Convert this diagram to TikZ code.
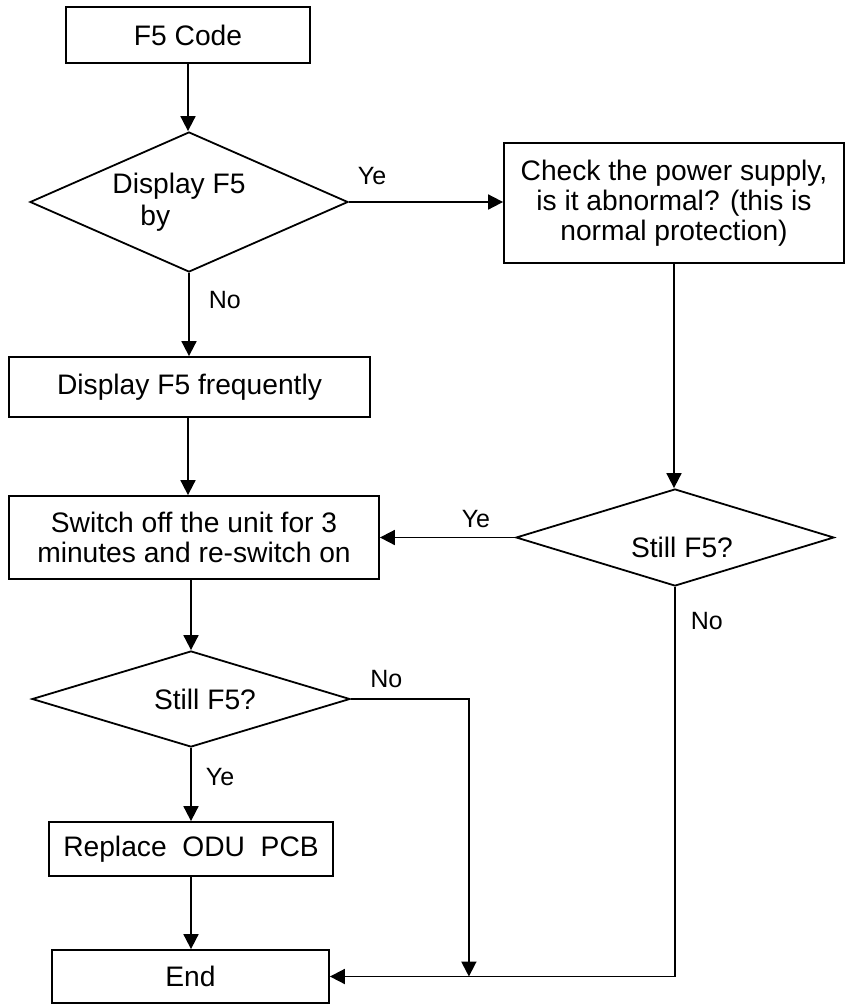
\documentclass[tikz,border=0pt]{standalone}
\usepackage{fontspec}
\setmainfont{Liberation Sans}
\usetikzlibrary{arrows.meta,shapes.geometric,calc}

\tikzset{
  box/.style={draw,line width=1.8pt,inner sep=0pt,align=center,font=\fontsize{28.2}{30}\selectfont},
  decision/.style={draw,shape=diamond,line width=1.8pt,inner sep=0pt,align=center,font=\fontsize{28.2}{32}\selectfont},
  flow/.style={line width=1.8pt,-{Triangle[length=15pt,width=15pt]}},
  tag/.style={inner sep=0pt,font=\fontsize{25}{25}\selectfont},
}

\begin{document}
\begin{tikzpicture}[x=1pt,y=-1pt]
  \useasboundingbox (0,0) rectangle (845,1004);
  % left column
  \node[box,minimum width=244pt,minimum height=56pt] (code) at (188,35) {F5 Code};
  \node[decision,align=left,aspect=2.27,minimum width=318pt,minimum height=140pt] (disp) at (189,202) {Display F5\hspace*{20pt}\\\hspace*{28pt}by};
  \node[box,minimum width=361pt,minimum height=60pt] (freq) at (189.5,387) {Display F5 frequently};
  \node[box,minimum width=370pt,minimum height=83pt] (switch) at (194,537.5) {Switch off the unit for 3\\minutes and re-switch on};
  \node[decision,aspect=3.3,minimum width=318pt,minimum height=96pt] (stillL) at (191,699) {\hspace*{28pt}Still F5?};
  \node[box,minimum width=284pt,minimum height=54pt] (replace) at (191,849) {Replace\ \ ODU\ \ PCB};
  \node[box,minimum width=277pt,minimum height=53pt] (end) at (190.5,976.5) {End};
  % right column
  \node[box,minimum width=340pt,minimum height=120pt] (check) at (674,203) {Check the power supply,\\is it abnormal? (this is\\normal protection)};
  \node[decision,aspect=3.3,text height=40pt,text depth=0pt,minimum width=318pt,minimum height=97pt] (stillR) at (675,537.5) {\hspace*{14pt}Still F5?};
  \coordinate (merge) at ($(end.east)+(139,0)$);

  \draw[flow] (code.south) -- (code.south |- disp.north);
  \draw[flow] (disp.east) -- (disp.east -| check.west) node[tag,pos=0.15,above=16pt] {Ye};
  \draw[flow] (disp.south) -- (disp.south |- freq.north) node[tag,pos=0.33,right=19pt] {No};
  \draw[flow] (code.south |- freq.south) -- (code.south |- switch.north);
  \draw[flow] (check.south) -- (check.south |- stillR.north);
  \draw[flow] (stillR.west) -- (stillR.west -| switch.east) node[tag,pos=0.29,above=9pt] {Ye};
  \draw[flow] (stillR.south) |- (end.east) node[tag,pos=0.044,right=15pt] {No};
  \draw[flow] (stillL.north |- switch.south) -- (stillL.north);
  \draw[flow] (stillL.east) -| (merge) node[tag,pos=0.15,above=10pt] {No};
  \draw[flow] (stillL.south) -- (stillL.south |- replace.north) node[tag,pos=0.4,right=14pt] {Ye};
  \draw[flow] (replace.south) -- (replace.south |- end.north);
\end{tikzpicture}
\end{document}
